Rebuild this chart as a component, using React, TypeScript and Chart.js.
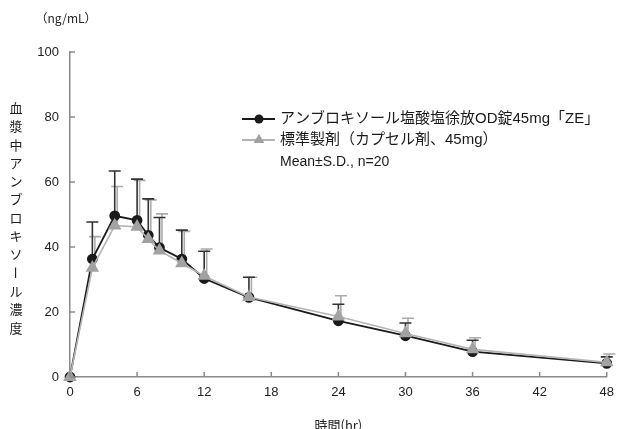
import React, { useEffect, useRef } from "react";
import { Chart, registerables } from "chart.js";

Chart.register(...registerables);

// ---- data ----
const times = [0, 2, 4, 6, 7, 8, 10, 12, 16, 24, 30, 36, 48];
const odMean = [0, 36.3, 49.6, 48.2, 43.6, 39.8, 36.3, 30.3, 24.5, 17.3, 12.7, 7.8, 4.2];
const odSD = [0, 11.4, 13.8, 12.7, 11.2, 9.3, 8.9, 8.4, 6.2, 5.1, 3.9, 3.5, 2.0];
const capMean = [0, 33.6, 46.6, 46.2, 42.4, 38.9, 35.0, 31.1, 24.6, 18.6, 13.4, 8.5, 4.5];
const capSD = [0, 9.6, 12.0, 14.3, 12.1, 11.3, 9.8, 8.3, 6.1, 6.4, 4.7, 3.6, 2.6];

const odLabel = "アンブロキソール塩酸塩徐放OD錠45mg「ZE」";
const capLabel = "標準製剤（カプセル剤、45mg）";
const statsNote = "Mean±S.D., n=20";
const yTitle = "血漿中アンブロキソール濃度";
const yUnit = "（ng/mL）";
const xTitle = "時間(hr)";
const xTickStep = 6;
const yTickStep = 20;

const LATIN = '"Liberation Sans", Arial, "Noto Sans CJK JP", sans-serif';
const JP = '"Noto Sans CJK JP", sans-serif';
const BLACK = "#1a1a1a";
const GRAY_LINE = "#b4b4b4";
const GRAY_FILL = "#a2a2a2";
const AXIS = "#8a8a8a";

const errorBarsPlugin = {
  id: "errorBars",
  beforeDatasetsDraw(chart: any) {
    const { ctx, scales } = chart;
    const xs = scales.x;
    const ys = scales.y;
    const draw = (mean: number[], sd: number[], color: string, dx: number) => {
      ctx.save();
      ctx.strokeStyle = color;
      ctx.lineWidth = 1.6;
      for (let i = 0; i < times.length; i++) {
        if (!sd[i]) continue;
        const px = xs.getPixelForValue(times[i]) + dx;
        const py = ys.getPixelForValue(mean[i]);
        const pt = ys.getPixelForValue(mean[i] + sd[i]);
        ctx.beginPath();
        ctx.moveTo(px, py);
        ctx.lineTo(px, pt);
        ctx.moveTo(px - 6, pt);
        ctx.lineTo(px + 6, pt);
        ctx.stroke();
      }
      ctx.restore();
    };
    draw(capMean, capSD, "#ababab", 2.5);
    draw(odMean, odSD, "#333333", 0);
  },
};

const decorPlugin = {
  id: "decor",
  afterDraw(chart: any) {
    const { ctx, scales, chartArea } = chart;
    const xs = scales.x;
    const ys = scales.y;
    ctx.save();
    // inward tick marks
    ctx.strokeStyle = AXIS;
    ctx.lineWidth = 1.5;
    ys.ticks.forEach((t: any) => {
      const py = ys.getPixelForValue(t.value);
      ctx.beginPath();
      ctx.moveTo(chartArea.left, py);
      ctx.lineTo(chartArea.left + 5, py);
      ctx.stroke();
    });
    xs.ticks.forEach((t: any) => {
      const px = xs.getPixelForValue(t.value);
      ctx.beginPath();
      ctx.moveTo(px, chartArea.bottom);
      ctx.lineTo(px, chartArea.bottom - 5);
      ctx.stroke();
    });

    // unit label
    ctx.fillStyle = "#222";
    ctx.font = "12px " + JP;
    ctx.textAlign = "center";
    ctx.textBaseline = "middle";
    ctx.fillText(yUnit, 66, 18);

    // vertical y title
    ctx.font = "13px " + JP;
    const chars = Array.from(yTitle);
    chars.forEach((c, i) => {
      const cy = 108 + i * 18.3;
      if (c === "ー") {
        ctx.save();
        ctx.translate(16, cy);
        ctx.rotate(Math.PI / 2);
        ctx.fillText(c, 0, 0);
        ctx.restore();
      } else {
        ctx.fillText(c, 16, cy);
      }
    });

    // legend
    const lx0 = 242;
    const lx1 = 275;
    const lmid = 259;
    const y1 = 119;
    const y2 = 140;
    ctx.lineWidth = 1.8;
    ctx.strokeStyle = BLACK;
    ctx.beginPath();
    ctx.moveTo(lx0, y1);
    ctx.lineTo(lx1, y1);
    ctx.stroke();
    ctx.fillStyle = BLACK;
    ctx.beginPath();
    ctx.arc(lmid, y1, 4.5, 0, Math.PI * 2);
    ctx.fill();

    ctx.strokeStyle = GRAY_LINE;
    ctx.lineWidth = 2;
    ctx.beginPath();
    ctx.moveTo(lx0, y2);
    ctx.lineTo(lx1, y2);
    ctx.stroke();
    ctx.fillStyle = GRAY_FILL;
    const r = 6.2;
    ctx.beginPath();
    ctx.moveTo(lmid, y2 - r);
    ctx.lineTo(lmid + r * 0.866, y2 + r * 0.5);
    ctx.lineTo(lmid - r * 0.866, y2 + r * 0.5);
    ctx.closePath();
    ctx.fill();

    ctx.fillStyle = "#1a1a1a";
    ctx.textAlign = "left";
    ctx.textBaseline = "middle";
    ctx.font = "15px " + LATIN;
    ctx.fillText(odLabel, 280, y1);
    ctx.fillText(capLabel, 280, y2);
    ctx.font = "14px " + LATIN;
    ctx.fillText(statsNote, 280, 162);
    ctx.restore();
  },
};

export default function App() {
  const ref = useRef<HTMLCanvasElement | null>(null);

  useEffect(() => {
    if (!ref.current) return;
    const chart = new Chart(ref.current, {
      type: "line",
      data: {
        datasets: [
          {
            label: capLabel,
            data: times.map((t, i) => ({ x: t, y: capMean[i] })),
            borderColor: GRAY_LINE,
            backgroundColor: GRAY_FILL,
            pointBackgroundColor: GRAY_FILL,
            pointBorderColor: GRAY_FILL,
            pointStyle: "triangle",
            pointRadius: 6.2,
            borderWidth: 1.6,
            order: 0,
            clip: false as any,
          },
          {
            label: odLabel,
            data: times.map((t, i) => ({ x: t, y: odMean[i] })),
            borderColor: BLACK,
            backgroundColor: BLACK,
            pointBackgroundColor: BLACK,
            pointBorderColor: BLACK,
            pointStyle: "circle",
            pointRadius: 4.5,
            borderWidth: 1.8,
            order: 1,
            clip: false as any,
          },
        ],
      },
      options: {
        animation: false,
        responsive: false,
        layout: { padding: { left: 8, right: 8, top: 52, bottom: 0 } },
        plugins: {
          legend: { display: false },
          tooltip: { enabled: false },
        },
        scales: {
          x: {
            type: "linear",
            min: 0,
            max: 48,
            grid: { display: false, drawTicks: false },
            border: { display: true, color: AXIS, width: 1.5 },
            ticks: {
              stepSize: xTickStep,
              padding: 8,
              color: "#222",
              font: { family: LATIN, size: 13 },
            },
            title: {
              display: true,
              text: xTitle,
              color: "#222",
              font: { family: JP, size: 13, lineHeight: 1.2 },
              padding: { top: 0, bottom: -4 },
            },
            afterFit: (s: any) => {
              s.height = 52;
            },
          },
          y: {
            min: 0,
            max: 100,
            grid: { display: false, drawTicks: false },
            border: { display: true, color: AXIS, width: 1.5 },
            ticks: {
              stepSize: yTickStep,
              padding: 11,
              color: "#222",
              font: { family: LATIN, size: 13 },
            },
            afterFit: (s: any) => {
              s.width = 62;
            },
          },
        },
      },
      plugins: [errorBarsPlugin, decorPlugin],
    } as any);
    return () => chart.destroy();
  }, []);

  return (
    <div style={{ position: "absolute", left: 0, top: 0, width: 622, height: 429, background: "#fff" }}>
      <canvas ref={ref} width={622} height={429} />
    </div>
  );
}
